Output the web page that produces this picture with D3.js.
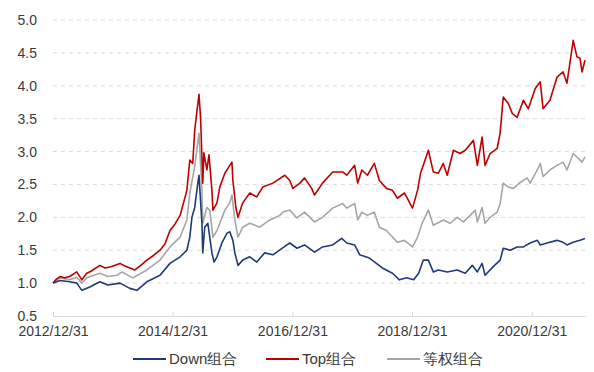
<!DOCTYPE html>
<html>
<head>
<meta charset="utf-8">
<script src="https://cdn.jsdelivr.net/npm/d3@7"></script>
<style>
  body { margin: 0; background: #fff; }
  #chart { width: 594px; height: 372px; }
  text { font-family: "Liberation Sans", Arial, sans-serif; }
</style>
</head>
<body>
<div id="chart"></div>
<script>
// values: [date, net value]
var topSeries = [
  ["2012-12-31",1.00],["2013-01-20",1.06],["2013-02-12",1.10],["2013-03-10",1.08],["2013-04-12",1.10],
  ["2013-05-25",1.17],["2013-06-25",1.05],["2013-07-25",1.15],["2013-08-20",1.18],["2013-10-13",1.27],
  ["2013-11-13",1.23],["2013-12-20",1.25],["2014-02-13",1.30],["2014-03-15",1.26],["2014-04-14",1.23],
  ["2014-05-15",1.20],["2014-06-20",1.27],["2014-07-27",1.35],["2014-09-05",1.42],["2014-10-15",1.50],
  ["2014-11-15",1.60],["2014-12-15",1.80],["2015-01-15",1.90],["2015-02-15",2.03],["2015-03-28",2.41],
  ["2015-04-15",2.87],["2015-05-03",2.82],["2015-05-15",3.33],["2015-06-10",3.87],["2015-06-20",3.50],
  ["2015-06-28",2.91],["2015-07-03",2.52],["2015-07-10",2.98],["2015-07-28",2.72],["2015-08-10",2.95],
  ["2015-08-28",2.41],["2015-09-03",2.11],["2015-09-28",2.22],["2015-10-15",2.46],["2015-11-15",2.67],
  ["2015-12-15",2.79],["2015-12-28",2.84],["2016-01-03",2.56],["2016-01-21",2.15],["2016-02-03",2.00],
  ["2016-03-03",2.22],["2016-04-15",2.37],["2016-05-28",2.31],["2016-07-03",2.46],["2016-09-03",2.52],
  ["2016-11-15",2.64],["2016-12-15",2.56],["2017-01-03",2.44],["2017-02-15",2.52],["2017-03-15",2.60],
  ["2017-04-28",2.44],["2017-05-15",2.34],["2017-07-03",2.52],["2017-09-03",2.69],["2017-11-03",2.69],
  ["2017-11-28",2.64],["2018-01-15",2.79],["2018-02-03",2.52],["2018-02-28",2.72],["2018-04-03",2.64],
  ["2018-05-15",2.82],["2018-06-15",2.56],["2018-07-28",2.44],["2018-09-03",2.41],["2018-10-03",2.29],
  ["2018-11-15",2.37],["2019-01-03",2.14],["2019-02-03",2.41],["2019-02-21",2.67],["2019-03-21",2.87],
  ["2019-04-10",3.02],["2019-05-10",2.69],["2019-06-10",2.67],["2019-07-10",2.82],["2019-08-03",2.64],
  ["2019-09-10",3.02],["2019-10-21",2.97],["2019-11-21",3.02],["2020-01-10",3.17],["2020-02-03",2.79],
  ["2020-03-03",3.22],["2020-03-21",2.79],["2020-04-21",2.97],["2020-06-03",3.05],["2020-06-21",3.28],
  ["2020-07-10",3.83],["2020-08-10",3.73],["2020-09-03",3.58],["2020-10-03",3.52],["2020-11-10",3.78],
  ["2020-12-10",3.65],["2021-01-21",3.96],["2021-02-21",4.06],["2021-03-10",3.65],["2021-04-21",3.78],
  ["2021-06-03",4.13],["2021-07-10",4.21],["2021-08-03",4.04],["2021-09-10",4.69],["2021-10-03",4.44],
  ["2021-10-21",4.42],["2021-11-03",4.21],["2021-11-21",4.39]
];

var equalSeries = [
  ["2012-12-31",1.00],["2013-02-12",1.08],["2013-04-12",1.05],["2013-05-25",1.09],["2013-06-25",1.00],
  ["2013-07-25",1.08],["2013-10-13",1.15],["2013-12-01",1.10],["2014-01-26",1.12],["2014-02-25",1.17],
  ["2014-05-02",1.08],["2014-07-27",1.20],["2014-10-15",1.35],["2014-12-15",1.55],["2015-02-15",1.70],
  ["2015-03-28",1.96],["2015-04-15",2.37],["2015-05-15",2.77],["2015-06-10",3.28],["2015-06-28",2.41],
  ["2015-07-03",1.91],["2015-07-28",2.15],["2015-08-15",2.11],["2015-09-03",1.70],["2015-09-28",1.80],
  ["2015-11-15",2.11],["2015-12-15",2.22],["2015-12-28",2.34],["2016-01-15",1.96],["2016-02-03",1.70],
  ["2016-03-03",1.85],["2016-04-15",1.91],["2016-06-15",1.85],["2016-08-15",1.96],["2016-10-15",2.03],
  ["2016-11-03",2.08],["2016-12-15",2.11],["2017-01-28",1.99],["2017-03-15",2.08],["2017-05-15",1.93],
  ["2017-07-03",2.00],["2017-09-03",2.14],["2017-11-03",2.21],["2017-11-28",2.14],["2018-01-15",2.21],
  ["2018-02-03",1.96],["2018-02-28",2.08],["2018-04-03",2.03],["2018-05-15",2.08],["2018-06-15",1.85],
  ["2018-07-28",1.80],["2018-09-03",1.70],["2018-10-03",1.62],["2018-11-15",1.65],["2019-01-03",1.55],
  ["2019-02-03",1.70],["2019-03-03",1.91],["2019-04-10",2.11],["2019-05-10",1.88],["2019-06-03",1.91],
  ["2019-07-10",1.96],["2019-08-21",1.91],["2019-10-03",2.00],["2019-11-10",1.93],["2019-12-21",2.03],
  ["2020-01-21",2.11],["2020-02-03",1.93],["2020-03-03",2.15],["2020-03-21",1.91],["2020-04-21",2.00],
  ["2020-06-03",2.08],["2020-06-21",2.21],["2020-07-10",2.52],["2020-08-10",2.46],["2020-09-10",2.44],
  ["2020-10-21",2.53],["2020-12-03",2.60],["2020-12-21",2.52],["2021-02-03",2.72],["2021-02-21",2.82],
  ["2021-03-10",2.62],["2021-04-21",2.72],["2021-06-03",2.79],["2021-07-10",2.84],["2021-08-03",2.72],
  ["2021-09-10",2.97],["2021-10-10",2.90],["2021-11-03",2.84],["2021-11-21",2.92]
];

var downSeries = [
  ["2012-12-31",1.00],["2013-02-12",1.04],["2013-04-12",1.02],["2013-05-25",1.00],["2013-06-25",0.89],
  ["2013-08-13",0.94],["2013-10-13",1.02],["2013-12-01",0.97],["2014-02-13",1.00],["2014-04-14",0.92],
  ["2014-05-27",0.89],["2014-07-27",1.02],["2014-10-15",1.12],["2014-12-15",1.30],["2015-02-15",1.40],
  ["2015-03-28",1.50],["2015-04-15",1.70],["2015-04-28",2.00],["2015-05-15",2.15],["2015-06-03",2.52],
  ["2015-06-10",2.64],["2015-06-28",1.91],["2015-07-03",1.46],["2015-07-15",1.85],["2015-08-03",1.91],
  ["2015-08-28",1.46],["2015-09-10",1.32],["2015-09-28",1.40],["2015-10-28",1.61],["2015-11-28",1.76],
  ["2015-12-15",1.78],["2016-01-03",1.65],["2016-01-15",1.46],["2016-02-03",1.27],["2016-03-03",1.35],
  ["2016-04-15",1.40],["2016-05-28",1.32],["2016-07-15",1.46],["2016-09-03",1.43],["2016-11-28",1.58],
  ["2016-12-15",1.61],["2017-01-28",1.53],["2017-03-15",1.58],["2017-05-15",1.47],["2017-07-03",1.55],
  ["2017-09-03",1.58],["2017-10-28",1.68],["2017-11-28",1.61],["2018-01-15",1.58],["2018-02-15",1.43],
  ["2018-04-15",1.38],["2018-05-28",1.30],["2018-07-03",1.23],["2018-09-03",1.15],["2018-10-15",1.05],
  ["2018-11-28",1.08],["2019-01-10",1.05],["2019-02-10",1.15],["2019-03-10",1.35],["2019-04-10",1.35],
  ["2019-05-10",1.17],["2019-06-10",1.20],["2019-08-03",1.17],["2019-10-03",1.20],["2019-11-21",1.15],
  ["2020-01-03",1.27],["2020-02-03",1.17],["2020-03-03",1.30],["2020-03-21",1.12],["2020-05-10",1.25],
  ["2020-06-21",1.35],["2020-07-10",1.53],["2020-08-21",1.50],["2020-10-03",1.55],["2020-11-10",1.55],
  ["2020-12-21",1.61],["2021-02-03",1.65],["2021-02-21",1.58],["2021-04-03",1.61],["2021-06-03",1.65],
  ["2021-07-10",1.62],["2021-08-03",1.58],["2021-09-10",1.62],["2021-10-21",1.65],["2021-11-21",1.68]
];

var seriesNames = ["Down组合", "Top组合", "等权组合"];
var seriesColors = ["#1f3a78", "#c00000", "#a6a6a6"];
var xTickDates = ["2012-12-31", "2014-12-31", "2016-12-31", "2018-12-31", "2020-12-31"];
var yTicks = [0.5, 1.0, 1.5, 2.0, 2.5, 3.0, 3.5, 4.0, 4.5, 5.0];

var parse = d3.timeParse("%Y-%m-%d");

var margin = { top: 20, right: 9, bottom: 56, left: 53 },
  width = 594 - margin.left - margin.right,
  height = 372 - margin.top - margin.bottom;

var svg = d3.select("#chart")
  .append("svg")
  .attr("width", 594)
  .attr("height", 372)
  .append("g")
  .attr("transform", `translate(${margin.left},${margin.top})`);

var x = d3.scaleTime()
  .domain([parse("2012-12-31"), parse("2021-11-21")])
  .range([0, width]);

var y = d3.scaleLinear()
  .domain([0.5, 5.0])
  .range([height, 0]);

// dashed gridlines
svg.selectAll(".grid")
  .data(yTicks.filter(d => d > 0.5))
  .enter()
  .append("line")
  .attr("x1", 0)
  .attr("x2", width)
  .attr("y1", d => y(d))
  .attr("y2", d => y(d))
  .attr("stroke", "#d9d9d9")
  .attr("stroke-width", 1)
  .attr("stroke-dasharray", "4,4");

// y labels
var yAxis = svg.append("g")
  .call(d3.axisLeft(y).tickValues(yTicks).tickFormat(d3.format(".1f")).tickSize(0).tickPadding(16));
yAxis.select(".domain").remove();
yAxis.selectAll("text")
  .attr("fill", "#3a3a3a")
  .style("font-size", "14px");

// x axis
var xAxis = svg.append("g")
  .attr("transform", `translate(0,${height})`)
  .call(d3.axisBottom(x)
    .tickValues(xTickDates.map(parse))
    .tickFormat(d3.timeFormat("%Y/%m/%d"))
    .tickSizeInner(-4)
    .tickSizeOuter(0)
    .tickPadding(10));
xAxis.select(".domain").attr("stroke", "#d9d9d9").attr("stroke-width", 1.2);
xAxis.selectAll(".tick line").attr("stroke", "#d9d9d9");
xAxis.selectAll("text")
  .attr("fill", "#3a3a3a")
  .style("font-size", "14px");

var line = d3.line()
  .x(d => x(parse(d[0])))
  .y(d => y(d[1]));

var allSeries = [downSeries, topSeries, equalSeries];
var drawOrder = [2, 1, 0];

drawOrder.forEach(function(i) {
  svg.append("path")
    .datum(allSeries[i])
    .attr("fill", "none")
    .attr("stroke", seriesColors[i])
    .attr("stroke-width", 1.6)
    .attr("stroke-linejoin", "round")
    .attr("d", line);
});

// legend
var legendX = [133, 266, 387];
var legend = d3.select("#chart svg")
  .append("g")
  .attr("transform", "translate(0,359)");

legend.selectAll(".legend-item")
  .data(seriesNames)
  .enter()
  .append("g")
  .attr("class", "legend-item")
  .attr("transform", (d, i) => `translate(${legendX[i]},0)`)
  .each(function(d, i) {
    d3.select(this)
      .append("line")
      .attr("x1", 0)
      .attr("x2", 33)
      .attr("stroke", seriesColors[i])
      .attr("stroke-width", 2);
    d3.select(this)
      .append("text")
      .attr("x", 36)
      .attr("dy", "0.35em")
      .attr("fill", "#3a3a3a")
      .style("font-size", "15px")
      .text(d);
  });
</script>
</body>
</html>
